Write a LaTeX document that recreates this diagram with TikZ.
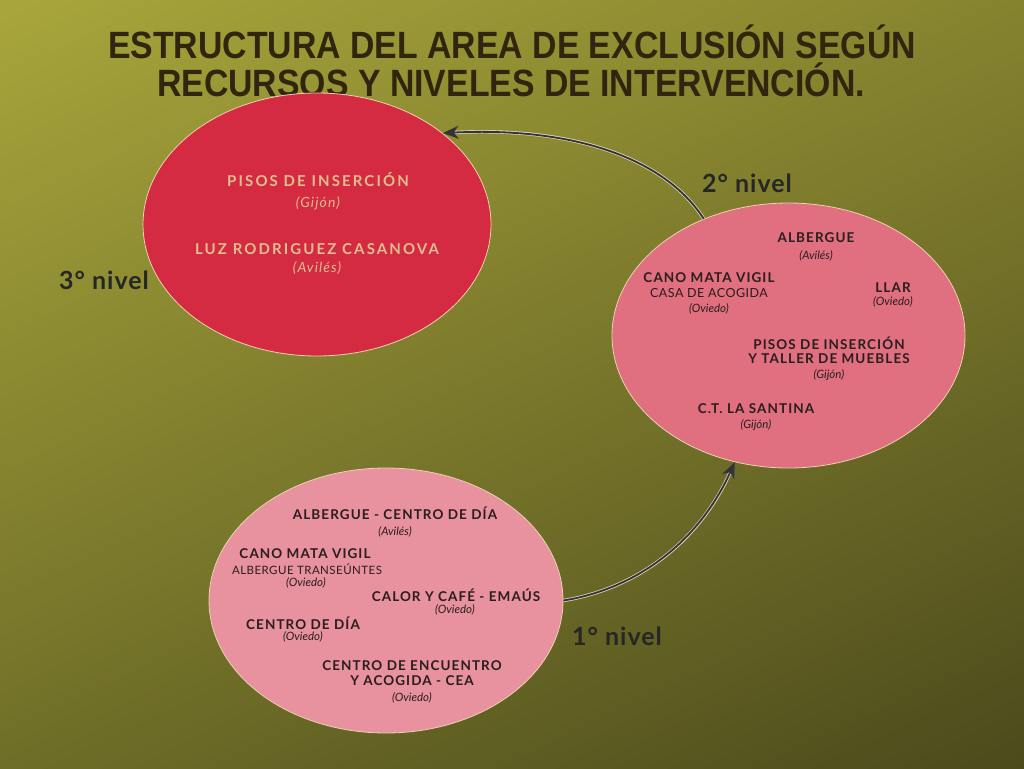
\documentclass[tikz,border=0pt]{standalone}
\usepackage{fontspec}
\usepackage{graphicx}
\setmainfont{Lato}
\newfontfamily\titlefont{Liberation Sans}
\newfontfamily\trackA[LetterSpace=8]{Lato}
\newfontfamily\trackB[LetterSpace=14]{Lato}
\newfontfamily\trackC[LetterSpace=4]{Lato}
\usetikzlibrary{shapes.geometric,arrows.meta,shadings}
\definecolor{bgUL}{HTML}{A8A63B}
\definecolor{bgUR}{HTML}{86832F}
\definecolor{bgLL}{HTML}{6F6E28}
\definecolor{bgLR}{HTML}{4B4A1C}
\definecolor{titleC}{HTML}{30260F}
\definecolor{redE}{HTML}{D42A42}
\definecolor{pinkM}{HTML}{E06F80}
\definecolor{pinkB}{HTML}{E8919F}
\definecolor{rimC}{HTML}{EAD2B0}
\definecolor{ink}{HTML}{2A1E1E}
\definecolor{tan}{HTML}{DDBE8E}
\definecolor{arrC}{HTML}{35333A}
\definecolor{haloC}{HTML}{D8D2B4}
\tikzset{
  ell/.style={ellipse, draw=rimC, line width=0.8pt, inner sep=0pt},
  bt/.style={font=\trackA\bfseries\fontsize{13.5}{15}\selectfont, text=ink, inner sep=0pt},
  rt/.style={font=\trackC\fontsize{12.5}{14}\selectfont, text=ink, inner sep=0pt},
  it/.style={font=\itshape\fontsize{11.5}{13}\selectfont, text=ink, inner sep=0pt},
  tbt/.style={font=\trackB\bfseries\fontsize{15}{17}\selectfont, text=tan, inner sep=0pt},
  tit/.style={font=\trackA\itshape\fontsize{14}{16}\selectfont, text=tan, inner sep=0pt},
  lvl/.style={font=\trackC\bfseries\fontsize{25}{28}\selectfont, text=black!85, inner sep=0pt},
  ttl/.style={font=\titlefont\bfseries\fontsize{38}{42}\selectfont, text=titleC, inner sep=0pt},
  halo/.style={draw=haloC, line width=3.4pt},
  conn/.style={draw=arrC, line width=1.8pt, -{Stealth[length=16pt,width=13pt]}}
}
\begin{document}
\begin{tikzpicture}[x=1pt,y=-1pt]
\shade[upper left=bgUL, upper right=bgUR, lower left=bgLL, lower right=bgLR] (0,0) rectangle (1024,768);
\useasboundingbox (0,0) rectangle (1024,768);

% title
\node[ttl] (t1) at (512,42) {\scalebox{0.89}[1]{ESTRUCTURA DEL AREA DE EXCLUSIÓN SEGÚN}};
\node[ttl] (t2) at (511,80) {\scalebox{0.89}[1]{RECURSOS Y NIVELES DE INTERVENCIÓN.}};

% ellipses
\node[ell, fill=redE, minimum width=348pt, minimum height=263pt] (top) at (317,224.5) {};
\node[ell, fill=pinkM, minimum width=353pt, minimum height=265pt] (mid) at (788.5,335.5) {};
\node[ell, fill=pinkB, minimum width=354pt, minimum height=265pt] (bot) at (386,600.5) {};

% connectors
\draw[halo, shorten >=12pt] (bot.east) .. controls +(75,-12) and +(-35,78) .. (mid.247);
\draw[conn] (bot.east) .. controls +(75,-12) and +(-35,78) .. (mid.247);
\draw[halo, shorten >=12pt] (mid.126) .. controls +(-44,-68) and +(115,-6) .. (top.36);
\draw[conn] (mid.126) .. controls +(-44,-68) and +(115,-6) .. (top.36);

% level labels
\node[lvl] (l3) at (104,280) {3° nivel};
\node[lvl] (l2) at (747,183) {2° nivel};
\node[lvl] (l1) at (617,636) {1° nivel};

% top (red) ellipse texts
\node[tbt] (r1) at (318,180) {PISOS DE INSERCIÓN};
\node[tit] (r1c) at (318,203) {(Gijón)};
\node[tbt] (r2) at (317,249) {LUZ RODRIGUEZ CASANOVA};
\node[tit] (r2c) at (317,268) {(Avilés)};

% middle ellipse texts
\node[bt] (m1) at (816,238) {ALBERGUE};
\node[it] (m1c) at (816,256) {(Avilés)};
\node[bt] (m2) at (709,278) {CANO MATA VIGIL};
\node[rt] (m2b) at (709,293.5) {CASA DE ACOGIDA};
\node[it] (m2c) at (709,309) {(Oviedo)};
\node[bt] (m3) at (893,288) {LLAR};
\node[it] (m3c) at (893,302) {(Oviedo)};
\node[bt] (m4) at (829,343) {PISOS DE INSERCIÓN};
\node[bt] (m4b) at (829,359) {Y TALLER DE MUEBLES};
\node[it] (m4c) at (829,375) {(Gijón)};
\node[bt] (m5) at (756,409) {C.T. LA SANTINA};
\node[it] (m5c) at (756,425) {(Gijón)};

% bottom ellipse texts
\node[bt] (b1) at (395,513) {ALBERGUE - CENTRO DE DÍA};
\node[it] (b1c) at (395,532) {(Avilés)};
\node[bt] (b2) at (305,554) {CANO MATA VIGIL};
\node[rt, font=\trackC\fontsize{11.5}{13}\selectfont] (b2b) at (307,569) {ALBERGUE TRANSEÚNTES};
\node[it] (b2c) at (306,583) {(Oviedo)};
\node[bt] (b3) at (456,595) {CALOR Y CAFÉ - EMAÚS};
\node[it] (b3c) at (455,610) {(Oviedo)};
\node[bt] (b4) at (303,623) {CENTRO DE DÍA};
\node[it] (b4c) at (303,637) {(Oviedo)};
\node[bt] (b5) at (412,666) {CENTRO DE ENCUENTRO};
\node[bt] (b5b) at (412,681) {Y ACOGIDA - CEA};
\node[it] (b5c) at (412,698) {(Oviedo)};
\end{tikzpicture}
\end{document}
